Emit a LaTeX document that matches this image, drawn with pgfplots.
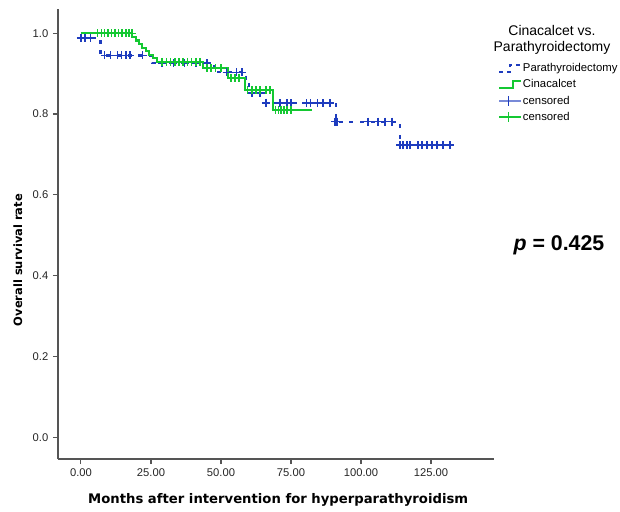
\documentclass[border=0pt]{standalone}
\usepackage{fontspec}
\setmainfont{Liberation Sans}
\newfontfamily\labfont{DejaVu Sans}
\usepackage{pgfplots}
\pgfplotsset{compat=1.18}
\definecolor{ptxblue}{RGB}{30,60,190}
\definecolor{cinagreen}{RGB}{20,200,50}
\definecolor{axisgray}{RGB}{85,85,85}

\begin{document}
\begin{tikzpicture}
\useasboundingbox (-43.5pt,-39pt) rectangle (421.5pt,344.25pt);
\begin{axis}[
  scale only axis, width=327pt, height=337.5pt,
  xmin=-8.2, xmax=147.5, ymin=-0.054, ymax=1.06,
  axis lines=left,
  axis line style={-, axisgray, line width=1pt},
  tick align=outside, major tick length=3.75pt,
  tick style={axisgray, line width=0.8pt},
  xtick={0,25,50,75,100,125},
  ytick={0,0.2,0.4,0.6,0.8,1.0},
  xticklabel style={/pgf/number format/.cd, fixed, fixed zerofill, precision=2},
  yticklabel style={/pgf/number format/.cd, fixed, fixed zerofill, precision=1},
  /pgf/number format/assume math mode=true,
  tick label style={font=\fontsize{8.4}{10}\selectfont, text=black!85},
  xlabel={Months after intervention for hyperparathyroidism},
  ylabel={Overall survival rate},
  xlabel style={at={(axis description cs:0.505,-0.091)}, anchor=center,
    font=\labfont\bfseries\fontsize{9.9}{11}\selectfont},
  ylabel style={at={(axis description cs:-0.092,0.442)}, anchor=center,
    font=\labfont\bfseries\fontsize{8.6}{10}\selectfont},
  clip=false,
  legend style={at={(rel axis cs:1.009,0.882)}, anchor=north west,
    draw=none, fill=none, inner sep=0pt, row sep=2.4pt,
    font=\fontsize{8.5}{10}\selectfont,
    nodes={inner sep=1pt}},
  legend cell align=left,
]
% Parathyroidectomy
\addplot[const plot, ptxblue, line width=1.6pt, dash pattern=on 3pt off 5pt, forget plot]
  coordinates {(0,0.988) (7,0.945) (25.5,0.926) (47.5,0.903) (59,0.879) (60,0.852)
  (66,0.827) (91,0.781) (114,0.723) (132,0.723)};
% Cinacalcet
\addplot[const plot, cinagreen, line width=1.6pt, forget plot]
  coordinates {(0,1) (18.3,0.991) (19.5,0.982) (20.7,0.973) (21.9,0.964) (23.1,0.956)
  (24.3,0.947) (25.6,0.938) (27,0.929) (43.6,0.913) (52.5,0.889) (58.6,0.859)
  (68.6,0.81) (82.5,0.81)};
% censored, parathyroidectomy
\addplot[only marks, mark=+, mark size=3pt, mark options={ptxblue, line width=1.1pt}, forget plot]
  coordinates {(0,0.988) (1.5,0.988) (3.5,0.988)
  (8.5,0.945) (10.5,0.945) (13,0.945) (14.5,0.945) (16,0.945) (17.5,0.945) (22,0.945)
  (29,0.926) (33,0.926) (37,0.926) (41,0.926) (45,0.926)
  (52,0.903) (55.5,0.903) (57.5,0.903)
  (61,0.852) (64,0.852)
  (66,0.827) (71,0.827) (73.5,0.827) (75,0.827) (80.5,0.827) (82,0.827) (84.5,0.827) (86.5,0.827) (89,0.827)
  (90.7,0.781) (91.4,0.781) (102.5,0.781) (106,0.781) (108.6,0.781) (111,0.781)
  (114,0.723) (115,0.723) (116.4,0.723) (117.5,0.723) (120.4,0.723) (121.8,0.723)
  (123.6,0.723) (125.4,0.723) (127.1,0.723) (129.3,0.723) (131.8,0.723)};
% censored, cinacalcet
\addplot[only marks, mark=+, mark size=3pt, mark options={cinagreen, line width=1.1pt}, forget plot]
  coordinates {(6,1) (7.3,1) (8.5,1) (9.7,1) (11,1) (12.2,1) (13.5,1) (14.7,1) (16,1) (17.2,1) (18.2,1)
  (29,0.929) (30.5,0.929) (32,0.929) (33.5,0.929) (35,0.929) (36.5,0.929) (38,0.929)
  (39.5,0.929) (41,0.929) (42.5,0.929)
  (45,0.913) (46.5,0.913) (48,0.913) (50,0.913)
  (53.5,0.889) (55,0.889) (56.5,0.889)
  (59.5,0.859) (61,0.859) (62.5,0.859) (64,0.859) (66,0.859) (67.5,0.859)
  (69.5,0.81) (70.5,0.81) (71.5,0.81) (72.5,0.81) (73.5,0.81) (75,0.81)};

\addlegendimage{legend image code/.code={
  \draw[ptxblue, line width=1.6pt, dash pattern=on 3pt off 3pt] (0pt,-2.5pt) -- (8pt,-2.5pt) -- (8pt,3pt) -- (16pt,3pt);}}
\addlegendentry{Parathyroidectomy}
\addlegendimage{legend image code/.code={
  \draw[cinagreen, line width=1.6pt] (0pt,-2.5pt) -- (10pt,-2.5pt) -- (10pt,3pt) -- (16pt,3pt);}}
\addlegendentry{Cinacalcet}
\addlegendimage{legend image code/.code={
  \draw[ptxblue!60, line width=0.9pt] (0pt,0pt) -- (16pt,0pt);
  \draw[ptxblue, line width=1pt] (7pt,-3.5pt) -- (7pt,3.5pt);}}
\addlegendentry{censored}
\addlegendimage{legend image code/.code={
  \draw[cinagreen, line width=0.9pt] (0pt,0pt) -- (16pt,0pt);
  \draw[cinagreen, line width=1pt] (7pt,-3.5pt) -- (7pt,3.5pt);}}
\addlegendentry{censored}

\node[align=center, font=\fontsize{10.5}{12}\selectfont, inner sep=0pt]
  at (rel axis cs:1.133,0.932) {Cinacalcet vs.\\Parathyroidectomy};
\node[font=\fontsize{16}{18}\selectfont\bfseries, inner sep=0pt]
  at (rel axis cs:1.149,0.476) {\textit{p} = 0.425};
\end{axis}
\end{tikzpicture}
\end{document}
